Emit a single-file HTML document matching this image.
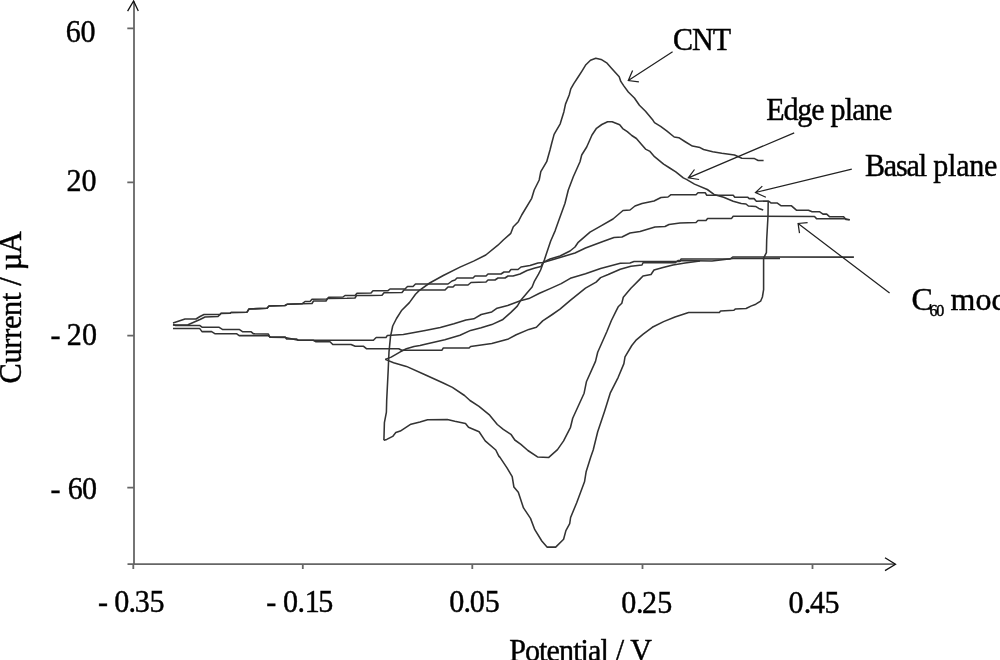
<!DOCTYPE html>
<html><head><meta charset="utf-8"><style>
html,body{margin:0;padding:0;background:#fff;width:1000px;height:660px;overflow:hidden}
svg{display:block;filter:blur(0.35px)}
text{font-family:"Liberation Serif",serif;fill:#000;stroke:#000;stroke-width:0.44px}
</style></head><body>
<svg width="1000" height="660" viewBox="0 0 1000 660">
<g fill="none" stroke="#666" stroke-width="1.8">
<path d="M134,1.5 L134,564.2 M127.5,564.2 L895,564.2"/>
<path d="M127.3,28.3 L134,28.3 M127.3,182.3 L134,182.3 M127.3,335.7 L134,335.7 M127.3,487.6 L134,487.6"/>
<path d="M133.3,564.3 L133.3,569 M302.8,564.3 L302.8,569 M472.3,564.3 L472.3,569 M642.5,564.3 L642.5,569 M812.5,564.3 L812.5,569"/>
</g>
<g fill="none" stroke="#111" stroke-width="1.3" stroke-linejoin="miter">
<path d="M127.6,11.2 L133.6,1 L138.3,11"/>
<path d="M885,557.7 L895.5,564.3 L885,570.6"/>
</g>
<g fill="none" stroke="#333" stroke-width="1.55" stroke-linejoin="round">
<path d="M383.9,440.2 L384.4,422.7 L386.4,412.1 L386.7,400.0 L388.2,370.0 L389.0,351.8 L390.5,336.7 L392.7,326.0 L396.5,318.5 L401.8,310.2 L409.4,302.6 L415.5,294.2 L419.1,290.6 L429.7,283.0 L443.3,275.5 L460.0,267.1 L473.6,261.1 L485.8,255.0 L497.9,245.2 L503.3,240.0 L510.8,233.3 L513.3,226.7 L518.3,221.7 L521.7,215.0 L531.7,198.3 L534.2,190.0 L539.2,180.0 L540.8,171.7 L546.7,161.7 L550.0,150.0 L551.7,143.3 L554.1,134.4 L560.2,123.8 L563.9,111.7 L565.5,104.1 L569.2,95.0 L570.8,88.9 L573.8,83.6 L578.3,76.8 L582.1,70.8 L585.9,64.7 L590.5,60.2 L595.8,58.3 L601.1,59.4 L607.1,63.2 L611.7,68.5 L619.2,76.8 L620.8,81.4 L623.8,85.9 L628.3,92.0 L634.4,98.0 L639.4,105.2 L645.5,111.2 L653.0,120.3 L654.5,122.6 L660.6,126.4 L666.7,130.9 L674.2,137.0 L678.8,137.7 L684.8,141.5 L692.4,146.1 L700.0,147.6 L703.6,149.5 L712.7,151.7 L721.8,153.2 L734.5,155.0 L741.8,158.3 L754.5,158.6 L758.2,160.5 L763.6,160.5"/>
<path d="M768.2,201.2 L768.0,216.0 L766.7,239.5 L766.4,252.7 L763.6,258.2 L763.6,289.7 L762.4,297.0 L760.6,301.2 L755.8,304.2 L750.9,306.1 L746.1,308.5 L735.2,309.1 L733.9,310.3 L720.6,310.9 L719.4,312.5 L700.0,312.5 L688.6,312.5 L675.0,317.0 L663.6,321.6 L652.3,327.3 L643.2,334.1 L636.4,339.8 L631.8,345.5 L625.0,356.8 L623.9,363.6 L618.2,377.3 L610.2,393.2 L604.5,411.4 L597.7,431.8 L593.2,450.0 L590.6,457.4 L586.2,471.4 L584.5,481.8 L576.7,502.7 L570.6,517.5 L569.7,523.6 L565.9,530.6 L563.6,539.3 L555.7,547.1 L547.0,547.1 L541.8,541.0 L534.8,529.7 L530.5,518.4 L523.5,507.9 L518.3,492.3 L513.9,487.0 L512.2,476.6 L507.0,467.9 L500.0,457.4 L498.8,456.1 L495.8,450.0 L485.2,440.9 L479.1,431.8 L468.5,427.3 L465.5,423.5 L454.8,421.2 L447.3,419.4 L427.6,419.7 L420.0,422.0 L410.9,424.2 L400.3,431.1 L395.8,432.6 L392.7,436.4 L386.7,439.4 L383.9,440.2"/>
<path d="M385.2,359.4 L391.2,357.1 L400.3,351.8 L406.4,348.8 L414.0,346.5 L420.0,345.5 L425.2,344.2 L444.8,339.7 L460.0,335.2 L470.6,330.4 L481.2,327.8 L491.8,324.6 L502.4,319.8 L510.9,312.4 L517.3,306.1 L520.4,300.8 L525.7,294.4 L532.1,287.0 L534.2,281.7 L538.5,274.2 L540.6,270.0 L544.5,259.4 L550.6,241.2 L555.2,230.6 L558.3,221.7 L565.0,203.3 L568.3,190.0 L573.3,176.7 L580.0,161.7 L581.7,155.0 L586.7,147.0 L592.0,135.0 L596.5,128.3 L601.8,124.5 L607.6,121.8 L612.1,121.8 L619.7,124.8 L622.7,128.6 L627.3,131.7 L631.8,135.5 L636.4,138.5 L640.9,143.8 L645.5,149.1 L650.0,151.4 L654.5,156.7 L663.6,164.2 L669.7,168.0 L675.8,171.8 L683.3,177.9 L686.4,179.4 L694.5,184.1 L707.3,189.5 L714.0,194.4 L723.6,197.2 L733.2,201.2 L741.2,203.6 L746.0,204.0 L748.4,206.0 L755.6,206.4 L758.8,208.4 L763.2,210.0"/>
<path d="M385.2,359.4 L393.6,362.7 L406.4,366.4 L424.5,374.5 L442.7,382.7 L452.4,387.4 L464.5,395.5 L470.0,400.5 L479.0,406.4 L489.7,415.2 L497.3,424.5 L503.3,429.3 L510.9,434.3 L514.8,440.0 L520.9,444.4 L527.9,450.5 L537.5,456.9 L548.8,457.4 L557.5,449.6 L563.6,440.9 L570.5,427.3 L572.7,418.2 L584.1,393.2 L586.4,381.8 L595.5,361.4 L597.7,352.3 L606.8,331.8 L611.4,320.5 L615.9,311.4 L618.2,306.8 L621.8,303.3 L623.3,297.3 L630.9,288.2 L640.0,279.1 L643.0,276.0 L651.0,274.5 L654.0,270.0 L663.0,267.5 L673.0,265.0 L685.0,263.0 L700.0,261.0"/>
<path d="M173.0,323.0 L185.0,319.0 L196.0,319.0 L200.0,316.5 L204.0,314.5 L220.0,314.5 L221.0,313.3 L230.0,313.3 L231.0,312.5 L247.0,312.2 L249.0,309.0 L267.0,308.3 L269.0,306.0 L285.0,305.5 L287.0,304.3 L302.0,303.8 L305.0,301.5 L310.0,301.5 L312.0,299.2 L327.0,299.0 L329.0,297.2 L343.0,297.0 L345.0,295.5 L355.0,295.5 L357.0,293.2 L371.0,293.0 L373.0,290.7 L388.0,290.7 L390.0,289.0 L405.0,289.0 L407.5,286.5 L413.0,286.5 L415.5,284.0 L448.0,284.0 L452.0,281.0 L455.0,280.0 L457.0,278.0 L473.0,278.0 L475.0,276.0 L486.0,276.0 L488.0,274.0 L501.0,274.0 L504.0,272.0 L509.0,272.0 L511.0,269.5 L518.0,269.5 L521.0,267.0 L530.0,265.5 L538.0,263.0 L543.0,262.4 L550.0,259.0 L560.0,256.0 L565.0,253.5 L570.0,251.0 L575.0,247.0 L577.9,242.7 L590.0,232.1 L600.6,226.1 L613.0,219.0 L623.0,210.5 L630.0,210.0 L635.0,206.0 L642.0,203.5 L654.0,201.0 L661.0,197.5 L668.0,197.0 L671.0,194.7 L696.0,194.7 L698.0,192.8 L705.2,192.8 L706.8,195.2 L733.2,195.2 L734.8,197.2 L747.6,197.2 L749.2,198.6 L754.0,198.6 L756.4,201.2 L768.5,201.0 L770.9,202.9 L777.0,202.9 L781.2,205.8 L791.5,205.8 L796.4,210.2 L808.5,210.2 L812.1,211.7 L819.4,211.7 L823.0,214.1 L826.7,214.1 L829.7,216.8 L843.6,216.8 L846.0,219.5 L849.7,219.8"/>
<path d="M173.0,325.0 L188.0,324.8 L200.0,319.5 L205.0,317.0 L218.0,316.5 L221.0,313.5 L230.0,313.3 L231.0,312.5 L247.0,312.2 L249.0,309.0 L267.0,308.3 L269.0,306.0 L285.0,305.5 L287.0,304.3 L302.0,303.8 L312.0,303.5 L313.5,301.0 L326.0,301.0 L327.5,298.5 L347.0,298.3 L355.0,298.0 L356.5,295.5 L370.0,295.5 L382.0,295.2 L384.0,292.7 L402.0,292.5 L404.0,290.0 L445.0,290.0 L448.0,287.0 L453.0,287.0 L455.0,285.0 L468.0,285.0 L471.0,282.5 L486.0,282.0 L488.0,280.0 L495.0,280.0 L498.0,278.0 L505.0,278.0 L508.0,276.0 L513.0,276.0 L520.0,274.0 L527.0,270.5 L535.0,268.0 L541.0,266.5 L543.0,262.4 L555.0,259.0 L565.0,256.0 L575.0,253.0 L585.5,248.0 L603.6,241.2 L614.0,237.5 L622.0,237.0 L630.0,233.0 L640.0,231.5 L655.0,227.0 L665.0,226.5 L669.0,224.5 L680.0,223.0 L696.0,222.5 L698.0,220.5 L706.0,220.4 L707.6,218.4 L731.6,218.4 L733.2,216.2 L814.5,216.5 L816.5,218.6 L844.8,218.7 L849.7,219.8"/>
<path d="M173.0,324.5 L175.6,325.4 L199.6,325.4 L202.0,327.2 L218.8,327.2 L222.4,329.4 L239.2,329.4 L242.8,331.8 L251.2,331.8 L253.6,333.8 L268.4,334.0 L269.8,337.1 L285.2,337.1 L286.6,338.9 L296.4,338.9 L298.5,340.3 L373.4,340.3 L376.2,337.5 L386.0,337.5 L387.4,335.4 L403.3,334.4 L417.0,332.1 L425.2,330.6 L440.3,327.6 L453.9,323.8 L466.0,320.0 L473.8,318.8 L481.2,314.5 L491.8,311.9 L497.1,308.2 L507.7,305.5 L520.4,300.8 L528.9,298.6 L539.5,293.3 L550.1,288.6 L561.2,283.6 L570.3,278.3 L585.5,273.8 L600.6,268.5 L620.3,263.2 L630.0,263.0 L634.0,261.5 L680.0,261.5 L681.0,259.0 L730.0,259.0 L732.7,257.0 L853.9,257.1"/>
<path d="M173.0,328.4 L199.6,328.4 L202.0,331.6 L211.6,331.6 L215.2,333.8 L236.8,333.8 L239.2,335.6 L268.0,335.6 L270.4,337.2 L285.0,337.5 L298.5,340.3 L313.2,340.3 L316.0,341.7 L330.0,341.7 L332.8,344.5 L351.0,344.5 L355.2,346.3 L363.6,346.3 L366.4,348.7 L398.7,348.7 L401.8,350.3 L441.8,350.3 L443.3,348.0 L469.1,348.0 L470.6,346.5 L491.8,343.5 L508.5,338.9 L516.2,334.7 L528.9,329.4 L536.4,327.3 L542.7,320.9 L552.3,314.5 L560.0,309.2 L570.3,300.3 L585.5,288.2 L596.1,282.1 L600.6,277.6 L608.2,274.5 L620.3,269.2 L630.9,266.2 L642.0,265.0 L643.0,262.8 L675.0,262.8 L678.0,260.5 L712.0,261.0 L733.0,258.5 L780.0,258.5"/>
</g>
<g fill="none" stroke="#222" stroke-width="1.25">
<path d="M672.6,51.8 L628.3,80.5 M632.6,70.6 L628.3,80.5 L638.9,81.8"/>
<path d="M794.2,132.8 L688.3,177.8 M694.5,169.5 L688.3,177.8 L699.1,179.5"/>
<path d="M851.8,169.1 L755.5,192.5 M762.3,186.1 L755.5,192.5 L765.9,197.3"/>
<path d="M889.6,293.1 L798.1,223.5 M807.6,222.6 L798.1,223.5 L799.5,233.2"/>
</g>
<g font-size="32">
<text transform="scale(0.94,1)" x="69.91 85.60" y="41.7">60</text>
<text transform="scale(0.94,1)" x="70.84 86.77" y="190.8">20</text>
<text transform="scale(0.94,1)" x="53.61 64.26 70.94 87.30" y="345.4">- 20</text>
<text transform="scale(0.94,1)" x="53.61 64.26 72.14 87.30" y="499.1">- 60</text>
<text transform="scale(0.94,1)" x="104.14 114.80 121.66 136.73 143.26 159.00" y="612.0">- 0.35</text>
<text transform="scale(0.94,1)" x="283.29 293.94 301.13 316.62 324.11 338.47" y="612.2">- 0.15</text>
<text transform="scale(0.94,1)" x="477.83 493.22 499.85 515.81" y="612.0">0.05</text>
<text transform="scale(0.94,1)" x="660.81 676.51 682.96 699.11" y="612.7">0.25</text>
<text transform="scale(0.94,1)" x="838.79 855.13 861.72 877.08" y="612.7">0.45</text>
<text transform="scale(0.94,1)" x="715.93" y="50.1" textLength="61.94" lengthAdjust="spacing">CNT</text>
<text transform="scale(0.94,1)" x="815.26" y="119.6" textLength="61.91" lengthAdjust="spacing">Edge</text>
<text transform="scale(0.94,1)" x="883.43" y="119.6" textLength="65.97" lengthAdjust="spacing">plane</text>
<text transform="scale(0.94,1)" x="920.15" y="175.6" textLength="66.23" lengthAdjust="spacing">Basal</text>
<text transform="scale(0.94,1)" x="992.90" y="175.6" textLength="68.21" lengthAdjust="spacing">plane</text>
<text transform="scale(0.94,1)" x="541.64" y="661" textLength="106.12" lengthAdjust="spacing">Potential</text>
<text transform="scale(0.94,1)" x="655.01" y="661">/</text>
<text transform="scale(0.94,1)" x="670.61" y="661">V</text>
<text transform="translate(21.3,383.4) rotate(-90) scale(0.95,1)" textLength="160.2" lengthAdjust="spacing">Current / µA</text>
<text x="911.5" y="309.6">C</text><text x="929.6" y="315.6" font-size="16" textLength="14.6" lengthAdjust="spacing">60</text><text x="950.5" y="309.6">mod</text>
</g>
</svg>
</body></html>
